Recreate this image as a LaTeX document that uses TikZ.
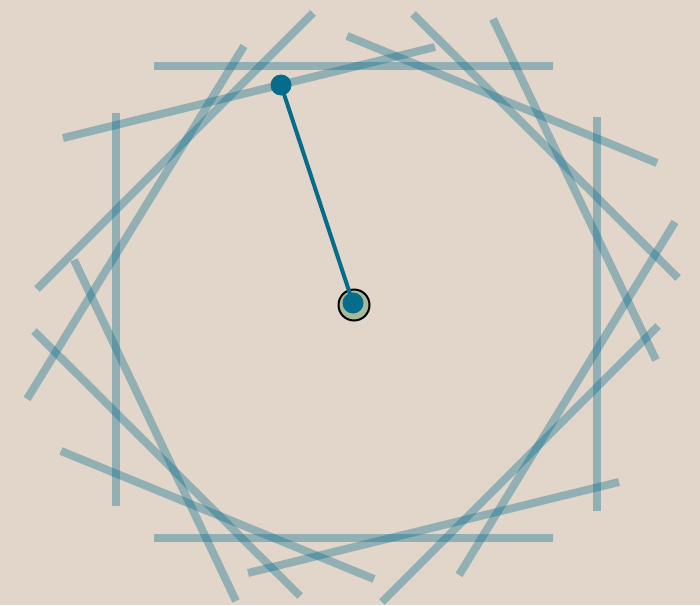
\documentclass[tikz,border=0pt]{standalone}
\usetikzlibrary{positioning}
\definecolor{paper}{HTML}{E2D6CB}
\definecolor{petrol}{HTML}{066C8C}
\definecolor{hubfill}{HTML}{A9B89A}

\begin{document}
\begin{tikzpicture}[
  x=1pt,y=-1pt,
  stroke/.style={draw=petrol,draw opacity=0.36,line width=8pt},
  hand/.style={draw=petrol,line width=4pt},
  hub/.style={circle,draw=black,line width=2pt,fill=hubfill,
    minimum size=31pt,inner sep=0pt},
  knob/.style={circle,fill=petrol,minimum size=21pt,inner sep=0pt}
]

\fill[paper] (0,0) rectangle (700,605);
\useasboundingbox (0,0) rectangle (700,605);

% tangent strokes round the hub
\foreach \xa/\ya/\xb/\yb in {
  154/66/553/66, 154/538/553/538, 116/113/116/506, 597/117/597/511,
  63/138/435/47, 347/36/657/163, 413/14/678/278, 493/19/656/360,
  675/222/459/575, 658/326/382/602, 619/482/248/573, 61/451/374/579,
  34/331/300/596, 74/260/236/601, 27/399/244/46, 37/289/313/13}
  \draw[stroke] (\xa,\ya) -- (\xb,\yb);

\node[hub] (hub) at (354,305) {};
\coordinate (pivot) at (353,303);
\coordinate (tip) at (281,85);

\draw[hand] (pivot) -- (tip);
\node[knob] (tipdot) at (tip) {};
\node[knob] (pivotdot) at (pivot) {};

\end{tikzpicture}
\end{document}
